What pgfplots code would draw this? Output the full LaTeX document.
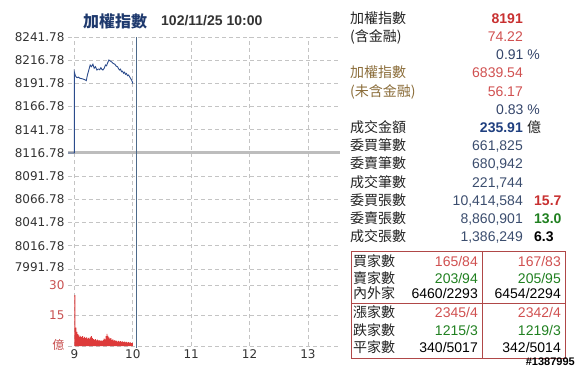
\documentclass[border=0pt]{standalone}
\usepackage{fontspec}
\setmainfont{Liberation Sans}
\newfontfamily\cjk{Noto Sans CJK TC}
\newfontfamily\dejavu{DejaVu Sans}
\usepackage{pgfplots}
\pgfplotsset{compat=1.18}
\usepackage{pgfplotstable}

\definecolor{idxblue}{HTML}{2C4C8C}
\definecolor{nowline}{HTML}{4D6A8A}
\definecolor{prevgray}{HTML}{BDBDBD}
\definecolor{volred}{HTML}{DD3A3A}
\definecolor{ticktxt}{HTML}{333333}
\definecolor{tickred}{HTML}{C85050}
\definecolor{gridc}{HTML}{C4C4C4}
\definecolor{titleblue}{HTML}{1F3A6E}
\definecolor{lbl}{HTML}{222222}
\definecolor{brownlbl}{HTML}{8B6D3A}
\definecolor{valred}{HTML}{D05050}
\definecolor{boldred}{HTML}{C83030}
\definecolor{slate}{HTML}{34456A}
\definecolor{numblue}{HTML}{3B4D6E}
\definecolor{amtblue}{HTML}{1F3F7F}
\definecolor{grn}{HTML}{208020}
\definecolor{boxred}{HTML}{B04848}

\pgfplotstableread{
m v
-6.5 8116.78
0 8116.78
0 8203.8
1 8200.1
2 8198.5
3 8197.9
4 8198.6
5.6 8197.3
7 8197.0
9 8196.5
10 8196.0
11.3 8195.5
12.2 8194.8
13.4 8200.9
14.8 8206.2
16.2 8211.6
17.5 8209.8
19.0 8212.4
20.3 8208.1
21.6 8209.8
23.1 8206.2
24 8207.0
25.1 8207.3
26 8206.5
27.2 8208.7
28.2 8207.0
29.3 8206.2
30.6 8208.1
31.9 8211.6
33 8210.8
34.0 8213.5
35.4 8217.0
36.8 8215.9
38.8 8214.5
40 8213.2
41.6 8212.4
43 8210.3
44.3 8209.8
45.4 8207.5
46.4 8206.2
47.4 8207.1
48.4 8204.4
49.5 8205.0
50.5 8202.7
51.5 8203.8
52.5 8201.6
53.5 8202.5
54.6 8200.1
55.6 8200.8
56.7 8199.0
57.7 8197.2
58.7 8195.5
59.7 8193.0
60 8191.5
}\idxdata

\pgfplotstableread{
m v
0 25
1 9
2 7
3 5.8
4 5.2
5 4.5
6 5.0
7 4.4
8 4.8
9 4.0
10 4.5
11 3.9
12 4.2
13 3.6
14 4.0
15 3.5
16 4.2
17 4.8
18 4.0
19 3.4
20 3.0
21 3.4
22 2.8
23 3.1
24 2.6
25 2.9
26 2.5
27 2.8
28 2.4
29 2.9
30 3.6
31 3.2
32 4.8
33 6.0
34 5.0
35 4.3
36 3.6
37 3.9
38 3.0
39 3.3
40 2.7
41 2.9
42 2.4
43 2.7
44 2.2
45 2.5
46 2.1
47 2.4
48 2.0
49 2.3
50 1.9
51 2.1
52 1.8
53 2.0
54 1.7
55 1.9
56 1.6
57 1.8
58 1.4
59 1.5
60 1.1
}\voldata

\newcommand{\fs}{\fontsize{14}{16}\selectfont}

\begin{document}
\begin{tikzpicture}
\useasboundingbox (0pt,0pt) rectangle (576pt,370pt);

% ---------- index panel ----------
\begin{axis}[
  at={(68pt,101pt)}, anchor=south west, scale only axis,
  width=272pt, height=232pt,
  xmin=8.89, xmax=13.55, ymin=7991.78, ymax=8241.78,
  axis line style={draw=none}, major tick length=0pt,
  xtick={9,10,11,12,13}, xticklabels={},
  ytick={7991.78,8016.78,8041.78,8066.78,8091.78,8116.78,8141.78,8166.78,8191.78,8216.78,8241.78},
  yticklabels={\raisebox{4pt}{7991.78},8016.78,8041.78,8066.78,8091.78,8116.78,8141.78,8166.78,8191.78,8216.78,\raisebox{-4pt}{8241.78}},
  yticklabel style={font=\dejavu\fontsize{12}{12}\selectfont, text=ticktxt},
  grid=major, major grid style={gridc, dash pattern=on 4pt off 3pt, line width=0.8pt},
  clip=false,
]
\addplot[no marks, line width=3pt, prevgray] coordinates {(8.89,8116.78) (13.55,8116.78)};
\addplot[no marks, line width=0.9pt, idxblue] table[x expr=9+\thisrow{m}/60, y=v] {\idxdata};
\end{axis}

% ---------- volume panel ----------
\begin{axis}[
  at={(68pt,24pt)}, anchor=south west, scale only axis,
  width=272pt, height=77pt,
  xmin=8.89, xmax=13.55, ymin=0, ymax=37.87,
  axis line style={draw=none}, major tick length=0pt,
  xtick={9,10,11,12,13}, xticklabels={9,10,11,12,13},
  xticklabel style={font=\dejavu\fontsize{12}{12}\selectfont, text=ticktxt},
  ytick={0,15,30}, yticklabels={\raisebox{4pt}{\cjk 億},15,30},
  yticklabel style={font=\dejavu\fontsize{12}{12}\selectfont, text=tickred},
  grid=major, major grid style={gridc, dash pattern=on 4pt off 3pt, line width=0.8pt},
  clip=false,
]
\addplot[fill=volred, draw=none, const plot mark left] table[x expr=9+\thisrow{m}/60, y=v] {\voldata} \closedcycle;
\addplot[no marks, line width=1.2pt, nowline] coordinates {(10.07,-1) (10.07,151.97)};
\end{axis}

% ---------- title ----------
\node[anchor=base west, inner sep=0, text=titleblue] at (83pt,342pt) {\cjk\bfseries\fontsize{16}{18}\selectfont 加權指數};
\node[anchor=base west, inner sep=0, text=ticktxt] at (161pt,344pt) {\bfseries\fs 102/11/25 10:00};

% ---------- right panel ----------
\begin{scope}[every node/.style={inner sep=0}]
\node[anchor=base west, text=lbl] at (350pt,346.7pt) {\cjk\fs 加權指數};
\node[anchor=base east, text=boldred] at (523pt,346.7pt) {\bfseries\fs 8191};
\node[anchor=base west, text=lbl] at (350pt,328.5pt) {\cjk\fs (含金融)};
\node[anchor=base east, text=valred] at (523pt,328.5pt) {\fs 74.22};
\node[anchor=base east, text=slate] at (540pt,310.3pt) {\fs 0.91 \%};
\node[anchor=base west, text=brownlbl] at (350pt,292.1pt) {\cjk\fs 加權指數};
\node[anchor=base east, text=valred] at (523pt,292.1pt) {\fs 6839.54};
\node[anchor=base west, text=brownlbl] at (350pt,273.9pt) {\cjk\fs (未含金融)};
\node[anchor=base east, text=valred] at (523pt,273.9pt) {\fs 56.17};
\node[anchor=base east, text=slate] at (540pt,255.7pt) {\fs 0.83 \%};
\node[anchor=base west, text=lbl] at (350pt,237.5pt) {\cjk\fs 成交金額};
\node[anchor=base east, text=amtblue] at (523pt,237.5pt) {\bfseries\fs 235.91};
\node[anchor=base west, text=lbl] at (527pt,237.5pt) {\cjk\fs 億};
\node[anchor=base west, text=lbl] at (350pt,219.3pt) {\cjk\fs 委買筆數};
\node[anchor=base east, text=numblue] at (523pt,219.3pt) {\fs 661,825};
\node[anchor=base west, text=lbl] at (350pt,201.1pt) {\cjk\fs 委賣筆數};
\node[anchor=base east, text=numblue] at (523pt,201.1pt) {\fs 680,942};
\node[anchor=base west, text=lbl] at (350pt,182.9pt) {\cjk\fs 成交筆數};
\node[anchor=base east, text=numblue] at (523pt,182.9pt) {\fs 221,744};
\node[anchor=base west, text=lbl] at (350pt,164.7pt) {\cjk\fs 委買張數};
\node[anchor=base east, text=numblue] at (523pt,164.7pt) {\fs 10,414,584};
\node[anchor=base west, text=boldred] at (534pt,164.7pt) {\bfseries\fs 15.7};
\node[anchor=base west, text=lbl] at (350pt,146.5pt) {\cjk\fs 委賣張數};
\node[anchor=base east, text=numblue] at (523pt,146.5pt) {\fs 8,860,901};
\node[anchor=base west, text=grn] at (534pt,146.5pt) {\bfseries\fs 13.0};
\node[anchor=base west, text=lbl] at (350pt,128.3pt) {\cjk\fs 成交張數};
\node[anchor=base east, text=numblue] at (523pt,128.3pt) {\fs 1,386,249};
\node[anchor=base west, text=black] at (534pt,128.3pt) {\bfseries\fs 6.3};

% table
\draw[boxred, line width=0.8pt] (351pt,12pt) rectangle (565pt,119pt);
\draw[boxred, line width=0.8pt] (482.3pt,12pt) -- (482.3pt,119pt);
\draw[boxred, line width=0.8pt] (351pt,66.7pt) -- (565pt,66.7pt);

\node[anchor=base west, text=lbl] at (353pt,103pt) {\cjk\fs 買家數};
\node[anchor=base east, text=valred] at (478pt,103pt) {\fs 165/84};
\node[anchor=base east, text=valred] at (561pt,103pt) {\fs 167/83};
\node[anchor=base west, text=lbl] at (353pt,87pt) {\cjk\fs 賣家數};
\node[anchor=base east, text=grn] at (478pt,87pt) {\fs 203/94};
\node[anchor=base east, text=grn] at (561pt,87pt) {\fs 205/95};
\node[anchor=base west, text=lbl] at (353pt,72pt) {\cjk\fs 內外家};
\node[anchor=base east, text=black] at (478pt,72pt) {\fs 6460/2293};
\node[anchor=base east, text=black] at (561pt,72pt) {\fs 6454/2294};

\node[anchor=base west, text=lbl] at (353pt,52.3pt) {\cjk\fs 漲家數};
\node[anchor=base east, text=valred] at (478pt,52.3pt) {\fs 2345/4};
\node[anchor=base east, text=valred] at (561pt,52.3pt) {\fs 2342/4};
\node[anchor=base west, text=lbl] at (353pt,35pt) {\cjk\fs 跌家數};
\node[anchor=base east, text=grn] at (478pt,35pt) {\fs 1215/3};
\node[anchor=base east, text=grn] at (561pt,35pt) {\fs 1219/3};
\node[anchor=base west, text=lbl] at (353pt,17.7pt) {\cjk\fs 平家數};
\node[anchor=base east, text=black] at (478pt,17.7pt) {\fs 340/5017};
\node[anchor=base east, text=black] at (561pt,17.7pt) {\fs 342/5014};

\node[anchor=base east, text=black] at (575pt,5pt) {\bfseries\fontsize{11}{12}\selectfont \#1387995};
\end{scope}
\end{tikzpicture}
\end{document}
